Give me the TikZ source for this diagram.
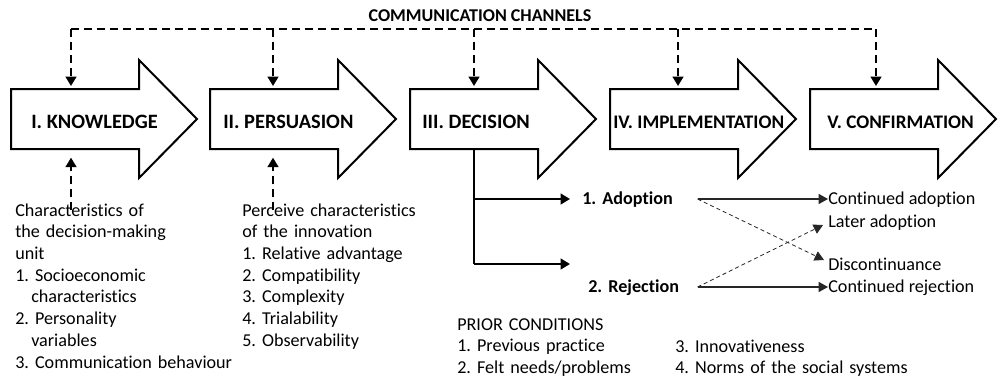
\documentclass[tikz,border=0pt]{standalone}
\usepackage{fontspec}
\setmainfont{Carlito}[Ligatures=NoCommon]
\usetikzlibrary{arrows.meta,positioning}
\frenchspacing
\tikzset{
        % Stage arrows
        stage/.style={draw=black, line width=1.5pt, fill=white, miter limit=20},
        stage_label/.style={font=\fontsize{#1}{18}\selectfont\bfseries, anchor=base west, inner sep=0pt},
        % Heading over the channel line
        channel_title/.style={font=\fontsize{13.5}{16}\selectfont\bfseries, inner sep=0pt},
        % Text blocks
        block_text/.style={font=\fontsize{13.6}{16.3}\selectfont, align=left, anchor=base west, inner sep=0pt, text width=#1},
        block_text/.default=200pt,
        % Adoption / rejection
        result/.style={font=\fontsize{13.6}{16.3}\selectfont\bfseries, align=left, anchor=base west, inner sep=0pt, text height=9pt, text depth=1.5pt, text width=#1},
        % Later outcomes
        outcome/.style={font=\fontsize{13.6}{16.3}\selectfont, anchor=base west, inner sep=0pt, text height=9pt, text depth=1.5pt},
        % Connectors
        channel/.style={line width=1.5pt, dash pattern=on 6pt off 3.75pt},
        channel_arrow/.style={channel, -{Triangle[width=8pt,length=7pt]}},
        branch/.style={line width=1.5pt},
        branch_arrow/.style={branch, -{Triangle[width=8pt,length=7pt]}},
        result_link/.style={line width=0.9pt, draw=black!85, -{Triangle[width=7.5pt,length=7pt]}},
        switch_link/.style={result_link, line width=0.6pt, dash pattern=on 3pt off 2.25pt}
}

\begin{document}
\begin{tikzpicture}[x=0.75pt, y=-0.75pt]
    \useasboundingbox (0,0) rectangle (998,379);

    % the five stages
    \foreach \name/\x/\cx/\lx/\fs/\label in {know/11/71/31/15.3/I. KNOWLEDGE, pers/210/273/223/15.3/II. PERSUASION, deci/410/474/422/15.3/III. DECISION, impl/610/678/613/14.4/IV. IMPLEMENTATION, conf/810/876/827/14.4/V. CONFIRMATION}{
        \draw[stage] (\x,89) -- ++(128,0) -- ++(0,-29) -- ++(58,59) -- ++(-58,59) -- ++(0,-29) -- ++(-128,0) -- cycle;
        \node[stage_label=\fs] (\name) at (\lx,128) {\label};
        \coordinate (\name-in) at (\cx,89);
        \coordinate (\name-out) at (\cx,149);
    }

    % communication channels
    \node[channel_title] (chan) at (480,16) {COMMUNICATION CHANNELS};
    \coordinate (bus) at (0,29);
    \draw[channel] (know-in |- bus) -- (conf-in |- bus);
    \foreach \name in {know, pers, deci, impl, conf}
        \draw[channel_arrow, shorten >=2.25pt] (\name-in |- bus) -- (\name-in);

    % characteristics
    \node[block_text] (unit) at (15,216) {Characteristics of\\the decision-making\\unit\\1. Socioeconomic\\\hspace*{12pt}characteristics\\2. Personality\\\hspace*{12pt}variables\\3. Communication behaviour};
    \node[block_text] (attrs) at (242,216) {Perceive characteristics\\of the innovation\\1. Relative advantage\\2. Compatibility\\3. Complexity\\4. Trialability\\5. Observability};
    \draw[channel_arrow, shorten <=-5.5pt, shorten >=6.5pt] (unit.north -| know-out) -- (know-out);
    \draw[channel_arrow, shorten <=-5.5pt, shorten >=6.5pt] (attrs.north -| pers-out) -- (pers-out);

    % decision branches
    \node[result=86.25pt] (adopt) at (582,204) {1. Adoption};
    \node[result=81.75pt] (reject) at (588,292) {2. Rejection};
    \coordinate (split) at (474,264);
    \coordinate (reject-in) at (570,264);
    \draw[branch] (deci-out) -- (split);
    \draw[branch_arrow, shorten >=9pt] (deci-out |- adopt.west) -- (adopt.west);
    \draw[branch_arrow] (split) -- (reject-in);

    % confirmation outcomes
    \node[outcome] (cadopt) at (828,204) {Continued adoption};
    \node[outcome] (later) at (828,227) {Later adoption};
    \node[outcome] (discont) at (828,270) {Discontinuance};
    \node[outcome] (crej) at (828,292) {Continued rejection};
    \draw[result_link] (adopt.east) -- (cadopt.west);
    \draw[result_link] (reject.east) -- (crej.west);
    \draw[switch_link] (adopt.east) -- ([shift={(-4,-5)}]discont.west);
    \draw[switch_link] (reject.east) -- ([shift={(-5,3)}]later.west);

    % prior conditions
    \node[block_text] (prior) at (457,330) {PRIOR CONDITIONS\\1. Previous practice\\2. Felt needs/problems};
    \node[block_text] (prior-more) at (675,352) {3. Innovativeness\\4. Norms of the social systems};
\end{tikzpicture}
\end{document}
